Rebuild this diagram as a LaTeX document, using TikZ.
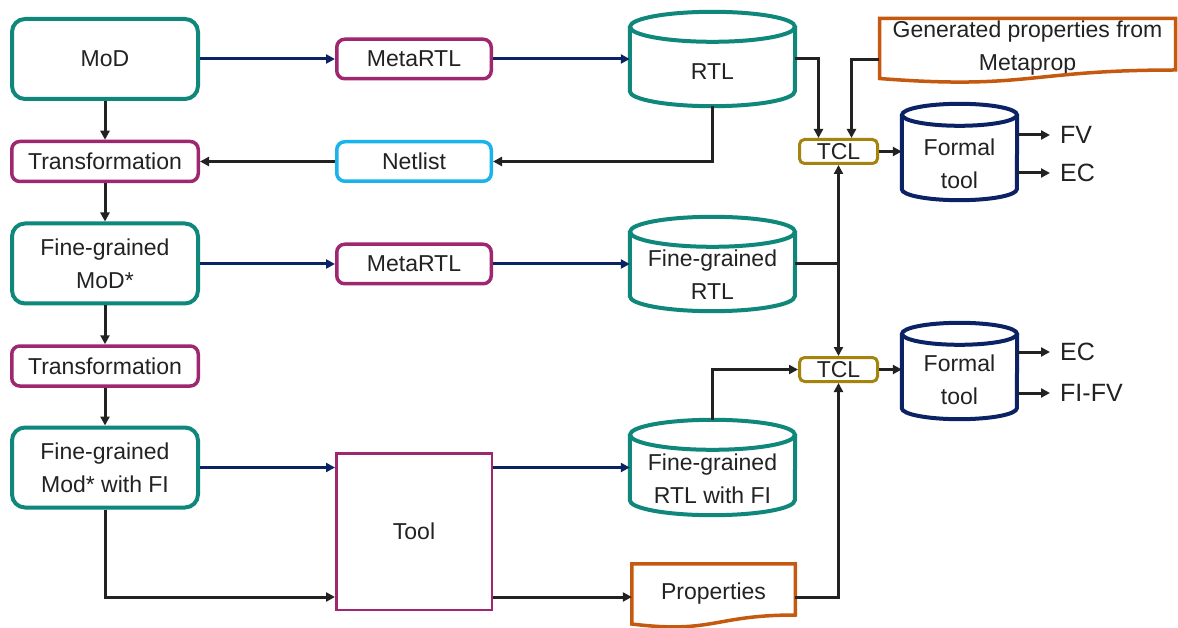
\documentclass[tikz,border=0pt]{standalone}
\usepackage{fontspec}
\setmainfont{Liberation Sans}
\usetikzlibrary{arrows.meta,calc}

\definecolor{tealc}{HTML}{0F877A}
\definecolor{magc}{HTML}{9E2770}
\definecolor{skyc}{HTML}{1BB3EC}
\definecolor{navyc}{HTML}{0B2265}
\definecolor{goldc}{HTML}{A4840F}
\definecolor{orangec}{HTML}{C5590F}
\definecolor{inkc}{HTML}{222222}
\definecolor{txtc}{HTML}{222222}

% cylinder drawn round a body node: #1 node, #2 colour, #3 x radius, #4 y radius
\newcommand\drawcyl[4]{%
  \draw[cylline, draw=#2] (#1.north west) -- ($(#1.south west)+(0,#4)$)
    arc[start angle=180, end angle=360, x radius=#3, y radius=#4] -- (#1.north east);
  \draw[cylline, draw=#2] (#1.north) ellipse[x radius=#3, y radius=#4];
}

\begin{document}
\begin{tikzpicture}[x=1pt, y=1pt,
  font=\fontsize{23}{33}\selectfont, text=txtc,
  box/.style={draw, align=center, inner sep=0pt, line width=3.5pt, rounded corners=8pt},
  modbox/.style={box, draw=tealc, line width=4pt, rounded corners=13pt,
    minimum width=186pt, minimum height=80pt},
  magbox/.style={box, draw=magc, minimum width=186.5pt, minimum height=40pt},
  metabox/.style={box, draw=magc, minimum width=154.5pt, minimum height=39.5pt},
  netbox/.style={box, draw=skyc, minimum width=154.5pt, minimum height=39.5pt},
  toolbox/.style={box, draw=magc, line width=2.5pt, rounded corners=0pt,
    minimum width=155.5pt, minimum height=156.5pt},
  tclbox/.style={box, draw=goldc, line width=3pt, rounded corners=5pt,
    minimum width=78pt, minimum height=24pt},
  cylbody/.style={inner sep=0pt},
  cylline/.style={line width=4pt, fill=white},
  cyltext/.style={align=center, inner sep=0pt},
  docnode/.style={align=center, inner sep=0pt},
  docline/.style={draw=orangec, line width=3.5pt, line join=miter},
  outlbl/.style={anchor=west, inner sep=0pt, font=\fontsize{25}{30}\selectfont},
  arr/.style={line width=3pt, draw=inkc, -{Triangle[length=9pt,width=9pt]}},
  plain/.style={line width=3pt, draw=inkc},
  navyarr/.style={arr, draw=navyc},
]
\fill[white] (0,0) rectangle (1178,-628);
\useasboundingbox (0,0) rectangle (1178,-628);

% left column
\node[modbox] (mod) at (105,-59) {MoD};
\node[magbox] (trans1) at (105,-161.5) {Transformation};
\node[modbox] (fgmod) at (105,-263.5) {Fine-grained\\MoD*};
\node[magbox] (trans2) at (105,-366) {Transformation};
\node[modbox] (fgmodfi) at (105,-467.5) {Fine-grained\\Mod* with FI};

% middle column
\node[metabox] (meta1) at (414,-59) {MetaRTL};
\node[netbox] (net) at (414,-161.5) {Netlist};
\node[metabox] (meta2) at (414,-264) {MetaRTL};
\node[toolbox] (tool) at (414,-531.5) {Tool};

% RTL stores
\node[cylbody, minimum width=165pt, minimum height=79pt] (rtl) at (712.5,-66.5) {};
\drawcyl{rtl}{tealc}{82.5}{15}
\node[cyltext] (rtlt) at (712.5,-72) {RTL};

\node[cylbody, minimum width=165pt, minimum height=79pt] (fgrtl) at (712.5,-271.5) {};
\drawcyl{fgrtl}{tealc}{82.5}{15}
\node[cyltext] (fgrtlt) at (712.5,-274.5) {Fine-grained\\RTL};

\node[cylbody, minimum width=165pt, minimum height=80pt] (fgrtlfi) at (712.5,-475) {};
\drawcyl{fgrtlfi}{tealc}{82.5}{15}
\node[cyltext] (fgrtlfit) at (712.5,-478.5) {Fine-grained\\RTL with FI};

% property documents
\node[docnode, minimum width=296pt, minimum height=60pt] (gen) at (1027.5,-48.5)
  {Generated properties from\\Metaprop};
\draw[docline] (879.5,-18.5) -- (1175.5,-18.5) -- (1175.5,-70)
  .. controls (1027.5,-70) and (1027.5,-90) .. (879.5,-78.5) -- cycle;

\node[docnode, minimum width=163pt, minimum height=56pt] (props) at (713.5,-592) {};
\node[cyltext] (propst) at (713.5,-594) {Properties};
\draw[docline] (631.75,-563.75) -- (795.25,-563.75) -- (795.25,-615)
  .. controls (713.5,-615) and (713.5,-634) .. (631.75,-624) -- cycle;

% TCL scripts
\node[tclbox] (tcl1) at (838.5,-151.5) {TCL};
\node[tclbox] (tcl2) at (838.5,-369.5) {TCL};

% formal tools
\node[cylbody, minimum width=115pt, minimum height=85pt] (formal1) at (959.5,-157.5) {};
\drawcyl{formal1}{navyc}{57.5}{11}
\node[cyltext] (formal1t) at (959.5,-163.5) {Formal\\tool};

\node[cylbody, minimum width=115pt, minimum height=85pt] (formal2) at (959.5,-376.5) {};
\drawcyl{formal2}{navyc}{57.5}{11}
\node[cyltext] (formal2t) at (959.5,-380) {Formal\\tool};

% results
\node[outlbl] (fv) at (1060,-135) {FV};
\node[outlbl] (ec1) at (1060,-173) {EC};
\node[outlbl] (ec2) at (1060,-352) {EC};
\node[outlbl] (fifv) at (1060,-393) {FI-FV};

% flow on the left
\draw[arr] (mod.south) -- (trans1.north);
\draw[arr] (trans1.south) -- (fgmod.north);
\draw[arr] (fgmod.south) -- (trans2.north);
\draw[arr] (trans2.south) -- (fgmodfi.north);

% generation paths
\draw[navyarr] (mod.east) -- (meta1.west);
\draw[navyarr] (meta1.east) -- (meta1.east -| rtl.west);
\draw[navyarr] (meta2.west -| fgmod.east) -- (meta2.west);
\draw[navyarr] (meta2.east) -- (meta2.east -| fgrtl.west);
\draw[navyarr] (fgmodfi.east) -- (fgmodfi.east -| tool.west);
\draw[navyarr] (fgmodfi.east -| tool.east) -- (fgmodfi.east -| fgrtlfi.west);

% netlist feedback
\draw[arr] (rtl.south) |- (net.east);
\draw[arr] (net.west) -- (trans1.east);

% tool and properties
\coordinate (low) at (0,-597);
\draw[arr] (fgmodfi.south) |- (tool.west |- low);
\draw[arr] (tool.east |- low) -- (props.west |- low);
\draw[arr] (props.east |- low) -| (tcl2.south);

% inputs of the TCL scripts
\coordinate (genin) at (0,-60);
\draw[arr] (meta1.east -| rtl.east) -| ([xshift=-20pt]tcl1.north);
\draw[arr] (gen.west |- genin) -| ([xshift=13pt]tcl1.north);
\coordinate (join) at (tcl1.south |- meta2.east);
\draw[plain] (meta2.east -| fgrtl.east) -- (join);
\draw[arr] (join) -- (tcl1.south);
\draw[arr] (join) -- (tcl2.north);
\draw[arr] ([yshift=15pt]fgrtlfi.north) |- (tcl2.west);

% formal runs
\draw[arr] (tcl1.east) -- (tcl1.east -| formal1.west);
\draw[arr] (tcl2.east) -- (tcl2.east -| formal2.west);
\draw[arr] (fv.west -| formal1.east) -- ([xshift=-10pt]fv.west);
\draw[arr] (ec1.west -| formal1.east) -- ([xshift=-10pt]ec1.west);
\draw[arr] (ec2.west -| formal2.east) -- ([xshift=-10pt]ec2.west);
\draw[arr] (fifv.west -| formal2.east) -- ([xshift=-10pt]fifv.west);
\end{tikzpicture}
\end{document}
